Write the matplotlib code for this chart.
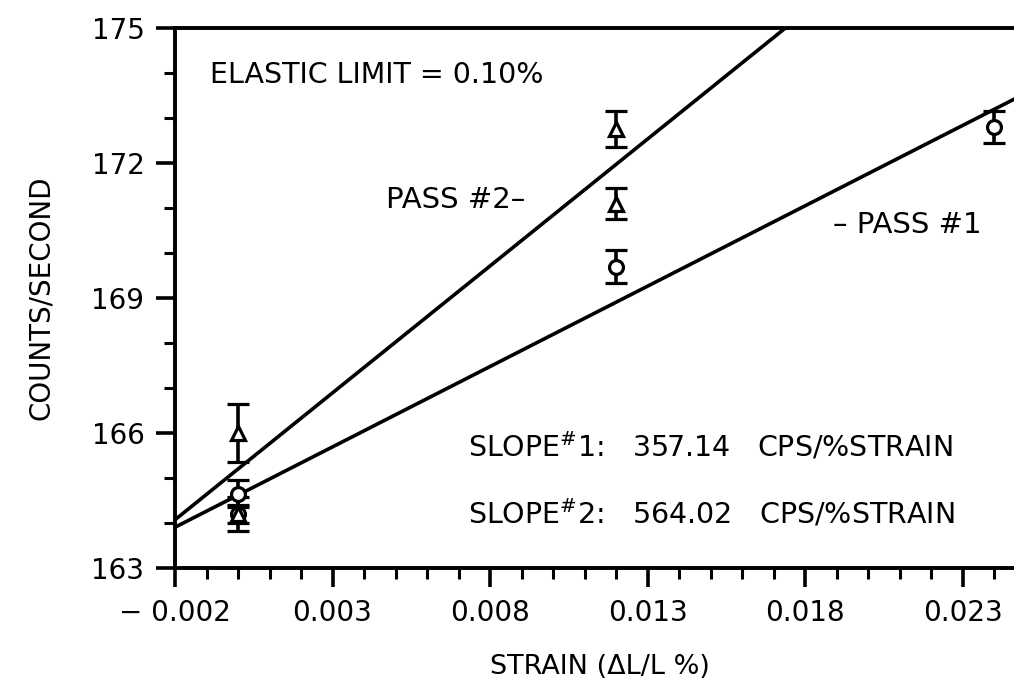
import numpy as np
import matplotlib.pyplot as plt
from matplotlib.ticker import MultipleLocator, FixedLocator

plt.rcParams['font.family'] = ['DejaVu Sans']
plt.rcParams['mathtext.fontset'] = 'dejavusans'

# pass 1 (circles)
p1_x = [0.0, 0.0, 0.012, 0.024]
p1_y = [164.65, 164.2, 169.7, 172.8]
p1_err = [0.3, 0.2, 0.37, 0.35]

# pass 2 (triangles)
p2_x = [0.0, 0.0, 0.012, 0.012]
p2_y = [166.0, 164.2, 172.75, 171.1]
p2_err = [0.65, 0.38, 0.4, 0.35]

# fitted lines: counts = intercept + slope * strain
slopes = [357.14, 564.02]
intercepts = [164.62, 165.2]

x_ticks = [-0.002, 0.003, 0.008, 0.013, 0.018, 0.023]
y_ticks = [163, 166, 169, 172, 175]

fig = plt.figure(figsize=(10.14, 6.92), dpi=100)
ax = fig.add_axes([0.1726, 0.1792, 0.8388, 0.7803])

xs = np.array([-0.002, 0.025])
for s, b in zip(slopes, intercepts):
    ax.plot(xs, b + s * xs, color='black', lw=2.6)

ax.errorbar(p1_x, p1_y, yerr=p1_err, fmt='o', ms=10, mfc='white', mec='black',
            mew=2.3, ecolor='black', elinewidth=2.6, capsize=8, capthick=2.8, zorder=3)
ax.errorbar(p2_x, p2_y, yerr=p2_err, fmt='^', ms=10, mfc='white', mec='black',
            mew=2.3, ecolor='black', elinewidth=2.6, capsize=8, capthick=2.8, zorder=3)

ax.set_xlim(-0.002, 0.025)
ax.set_ylim(163, 175)
ax.xaxis.set_major_locator(FixedLocator(x_ticks))
ax.xaxis.set_minor_locator(MultipleLocator(0.001))
ax.yaxis.set_major_locator(FixedLocator(y_ticks))
ax.yaxis.set_minor_locator(MultipleLocator(1))
ax.set_xticklabels(['\u2212 0.002', '0.003', '0.008', '0.013', '0.018', '0.023'])
ax.tick_params(which='major', length=14, width=2.6, labelsize=20, pad=8)
ax.tick_params(which='minor', length=8, width=2.2)

for sp in ax.spines.values():
    sp.set_linewidth(2.8)
ax.spines['right'].set_visible(False)

ax.set_xlabel('STRAIN (\u0394L/L %)', fontsize=19.5, labelpad=20)
ax.set_ylabel('COUNTS/SECOND', fontsize=20, labelpad=26)

ax.text(-0.00089, 173.96, 'ELASTIC LIMIT = 0.10%', fontsize=20.5, va='center', ha='left')
ax.text(0.00911, 171.18, 'PASS #2\u2013', fontsize=21, va='center', ha='right')
ax.text(0.01889, 170.62, '\u2013 PASS #1', fontsize=21, va='center', ha='left')
ax.text(0.00729, 165.69, r'SLOPE$^{\#}$1:   357.14   CPS/%STRAIN', fontsize=20.5, va='center', ha='left')
ax.text(0.00729, 164.22, r'SLOPE$^{\#}$2:   564.02   CPS/%STRAIN', fontsize=20.5, va='center', ha='left')

fig.savefig('out.png', dpi=100)
